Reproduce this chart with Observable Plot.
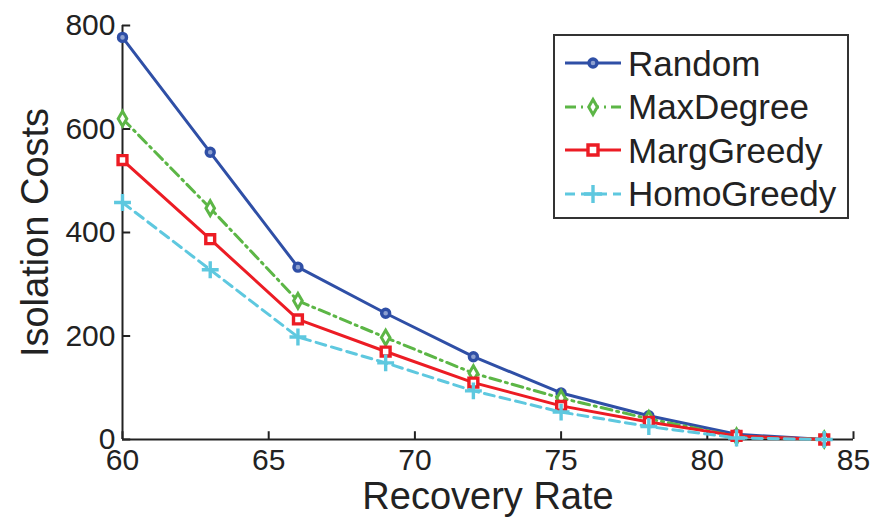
<!DOCTYPE html>
<html>
<head>
<meta charset="utf-8">
<script src="https://cdn.jsdelivr.net/npm/d3@7"></script>
<script src="https://cdn.jsdelivr.net/npm/@observablehq/plot@0.6"></script>
<style>
  body { margin: 0; background: #fff; }
  #wrap { position: relative; width: 877px; height: 518px; font-family: "Liberation Sans", Arial, sans-serif; }
  #legend { position: absolute; left: 553px; top: 34px; width: 292px; height: 181px; border: 2px solid #333; background: #fff; box-sizing: content-box; }
  .row { position: absolute; left: 0; height: 44px; display: flex; align-items: center; }
  .row svg { margin-left: 8px; }
  .row span { font-size: 35px; color: #222; margin-left: 5px; line-height: 1; }
</style>
</head>
<body>
<div id="wrap"></div>
<script>
// ---- data ----
const recoveryRate = [60, 63, 66, 69, 72, 75, 78, 81, 84];
const seriesNames = ["Random", "MaxDegree", "MargGreedy", "HomoGreedy"];
const randomCost     = [777, 555, 333, 244, 160, 90, 46, 10, 0];
const maxDegreeCost  = [620, 447, 268, 197, 128, 80, 40, 6, 0];
const margGreedyCost = [540, 387, 232, 170, 110, 65, 34, 7, 0];
const homoGreedyCost = [458, 328, 198, 148, 94, 53, 25, 3, 0];
const xTicks = [60, 65, 70, 75, 80, 85];
const yTicks = [0, 200, 400, 600, 800];
const xLabel = "Recovery Rate";
const yLabel = "Isolation Costs";

const costs = [randomCost, maxDegreeCost, margGreedyCost, homoGreedyCost];
const table = seriesNames.flatMap((s, i) => recoveryRate.map((r, j) => ({series: s, rate: r, cost: costs[i][j]})));

const styles = {
  Random:     {color: "#2f4fa6", dash: null,          symbol: "circle",  r: 4,   fill: "#8da0d0", sw: 3.4},
  MaxDegree:  {color: "#5cb646", dash: "11,5,2,5",    symbol: "diamond", r: 4.5, fill: "white",   sw: 3},
  MargGreedy: {color: "#ec1c24", dash: null,          symbol: "square",  r: 5,   fill: "white",   sw: 3.4},
  HomoGreedy: {color: "#5ec8df", dash: "10,6",        symbol: "plus",    r: 5.5, fill: "none",    sw: 3.4}
};

const axisColor = "#222";
const marks = [
  Plot.ruleX([60], {y1: 0, y2: 800, stroke: axisColor, strokeWidth: 2}),
  Plot.ruleY([0], {x1: 60, x2: 85, stroke: axisColor, strokeWidth: 2}),
  Plot.ruleX(xTicks, {x: d => d, y1: 0, y2: 15, stroke: axisColor, strokeWidth: 2}),
  Plot.ruleY(yTicks, {y: d => d, x1: 60, x2: 60.28, stroke: axisColor, strokeWidth: 2}),
  Plot.axisX({ticks: xTicks, tickSize: 0, tickPadding: 9, fontSize: 30, label: null, tickFormat: d => d}),
  Plot.axisY({ticks: yTicks, tickSize: 0, tickPadding: 7, fontSize: 30, label: null, tickFormat: d => d}),
  Plot.text([xLabel], {frameAnchor: "bottom", dy: 57, fontSize: 38, textAnchor: "middle", lineAnchor: "middle", fill: "#222"}),
  Plot.text([yLabel], {frameAnchor: "left", dx: -87, rotate: -90, fontSize: 38, textAnchor: "middle", lineAnchor: "middle", fill: "#222"})
];
for (const s of seriesNames) {
  const st = styles[s];
  const d = table.filter(t => t.series === s);
  marks.push(Plot.line(d, {x: "rate", y: "cost", stroke: st.color, strokeWidth: 3, strokeDasharray: st.dash}));
  marks.push(Plot.dot(d, {x: "rate", y: "cost", symbol: st.symbol, r: st.r, stroke: st.color, strokeWidth: st.sw, fill: st.fill}));
}

const chart = Plot.plot({
  width: 877, height: 518,
  marginLeft: 122, marginRight: 24, marginTop: 25, marginBottom: 79,
  x: {domain: [60, 85]},
  y: {domain: [0, 800]},
  style: {fontFamily: "'Liberation Sans', Arial, sans-serif", color: "#222", background: "white", overflow: "visible"},
  marks
});
const wrap = document.getElementById("wrap");
wrap.appendChild(chart);

// legend
const legend = document.createElement("div");
legend.id = "legend";
const symbolPath = {
  circle: d3.symbol(d3.symbolCircle, Math.PI * 4 * 4)(),
  diamond: d3.symbol(d3.symbolDiamond, 64)(),
  square: d3.symbol(d3.symbolSquare, 100)(),
  plus: d3.symbol(d3.symbolPlus, 110)()
};
seriesNames.forEach((s, i) => {
  const st = styles[s];
  const row = document.createElement("div");
  row.className = "row";
  row.style.top = (5 + i * 43.5) + "px";
  row.innerHTML = `<svg width="60" height="24" viewBox="0 0 60 24">
    <line x1="2" x2="58" y1="12" y2="12" stroke="${st.color}" stroke-width="3" ${st.dash ? `stroke-dasharray="${st.dash}"` : ""}/>
    <path d="${symbolPath[st.symbol]}" transform="translate(30,12)" fill="${st.fill}" stroke="${st.color}" stroke-width="${st.sw}"/>
  </svg><span>${s}</span>`;
  legend.appendChild(row);
});
wrap.appendChild(legend);
</script>
</body>
</html>
